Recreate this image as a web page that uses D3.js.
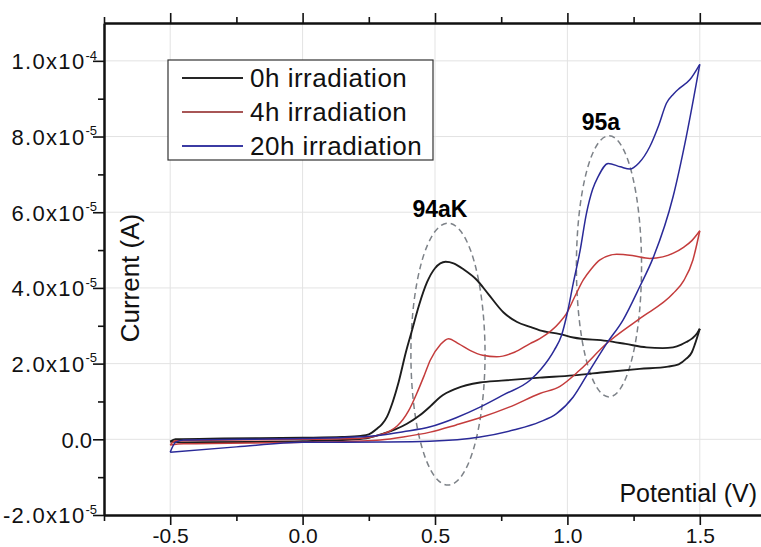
<!DOCTYPE html>
<html>
<head>
<meta charset="utf-8">
<script src="https://cdn.jsdelivr.net/npm/d3@7"></script>
<style>
  body { margin: 0; background: #fff; }
  svg { display: block; font-family: "Liberation Sans", Arial, sans-serif; }
</style>
</head>
<body>
<svg id="chart" width="761" height="547"></svg>
<script>
// ---- Cyclic voltammetry scans: [potential (V), current (A)] ----
const seriesNames = ["0h irradiation", "4h irradiation", "20h irradiation"];

// anodic (forward) sweeps, -0.5 V -> 1.5 V
const forward0h = [
  [-0.5, -0.06e-5], [-0.48, 0.0], [-0.3, 0.02e-5], [0.0, 0.04e-5], [0.15, 0.06e-5],
  [0.22, 0.09e-5], [0.25, 0.13e-5], [0.281, 0.28e-5], [0.30, 0.4e-5], [0.319, 0.6e-5],
  [0.34, 0.98e-5], [0.363, 1.52e-5], [0.39, 2.3e-5], [0.412, 2.85e-5], [0.44, 3.55e-5],
  [0.47, 4.15e-5], [0.50, 4.52e-5], [0.54, 4.69e-5], [0.57, 4.65e-5], [0.61, 4.48e-5],
  [0.658, 4.21e-5], [0.70, 3.85e-5], [0.759, 3.35e-5], [0.81, 3.1e-5], [0.859, 2.97e-5],
  [0.896, 2.88e-5], [0.972, 2.78e-5], [1.022, 2.69e-5], [1.148, 2.60e-5], [1.22, 2.52e-5],
  [1.299, 2.43e-5], [1.36, 2.41e-5], [1.399, 2.43e-5], [1.43, 2.5e-5], [1.449, 2.57e-5],
  [1.47, 2.66e-5], [1.49, 2.8e-5], [1.5, 2.92e-5]
];
const forward4h = [
  [-0.5, -0.15e-5], [-0.48, -0.04e-5], [0.0, 0.0], [0.2, 0.02e-5], [0.25, 0.05e-5],
  [0.293, 0.12e-5], [0.33, 0.22e-5], [0.357, 0.35e-5], [0.40, 0.75e-5], [0.431, 1.21e-5],
  [0.46, 1.7e-5], [0.482, 2.09e-5], [0.52, 2.5e-5], [0.551, 2.66e-5], [0.59, 2.52e-5],
  [0.632, 2.35e-5], [0.68, 2.22e-5], [0.733, 2.18e-5], [0.80, 2.3e-5], [0.859, 2.53e-5],
  [0.896, 2.66e-5], [0.972, 3.10e-5], [0.997, 3.33e-5], [1.03, 3.8e-5], [1.06, 4.21e-5],
  [1.09, 4.5e-5], [1.123, 4.74e-5], [1.186, 4.89e-5], [1.25, 4.85e-5], [1.311, 4.78e-5],
  [1.36, 4.82e-5], [1.40, 4.92e-5], [1.44, 5.08e-5], [1.47, 5.25e-5], [1.5, 5.51e-5]
];
const forward20h = [
  [-0.5, -0.34e-5], [-0.48, -0.08e-5], [-0.45, -0.02e-5], [0.0, 0.02e-5], [0.2, 0.06e-5],
  [0.293, 0.11e-5], [0.38, 0.2e-5], [0.482, 0.33e-5], [0.58, 0.57e-5], [0.67, 0.85e-5],
  [0.76, 1.18e-5], [0.859, 1.56e-5], [0.90, 1.85e-5], [0.95, 2.35e-5], [0.978, 2.75e-5],
  [1.0, 3.35e-5], [1.022, 4.12e-5], [1.047, 4.95e-5], [1.072, 5.97e-5], [1.095, 6.6e-5],
  [1.116, 6.94e-5], [1.154, 7.29e-5], [1.20, 7.2e-5], [1.236, 7.14e-5], [1.27, 7.3e-5],
  [1.311, 7.73e-5], [1.345, 8.3e-5], [1.374, 8.88e-5], [1.40, 9.12e-5], [1.424, 9.28e-5],
  [1.462, 9.5e-5], [1.5, 9.91e-5]
];

// cathodic (return) sweeps, listed in ascending potential
const reverse0h = [
  [-0.5, -0.06e-5], [-0.45, -0.08e-5], [-0.2, -0.07e-5], [0.0, -0.05e-5], [0.2, 0.0],
  [0.25, 0.04e-5], [0.305, 0.15e-5], [0.35, 0.26e-5], [0.394, 0.41e-5], [0.44, 0.62e-5],
  [0.482, 0.87e-5], [0.52, 1.12e-5], [0.58, 1.34e-5], [0.67, 1.50e-5], [0.75, 1.55e-5],
  [0.896, 1.63e-5], [1.022, 1.69e-5], [1.148, 1.78e-5], [1.273, 1.86e-5], [1.38, 1.92e-5],
  [1.42, 1.98e-5], [1.449, 2.13e-5], [1.47, 2.3e-5], [1.481, 2.5e-5], [1.5, 2.92e-5]
];
const reverse4h = [
  [-0.5, -0.15e-5], [-0.45, -0.12e-5], [0.0, -0.08e-5], [0.2, -0.05e-5], [0.293, -0.02e-5],
  [0.38, 0.06e-5], [0.482, 0.19e-5], [0.58, 0.38e-5], [0.67, 0.57e-5], [0.78, 0.85e-5],
  [0.896, 1.21e-5], [0.972, 1.40e-5], [1.047, 1.83e-5], [1.148, 2.53e-5], [1.273, 3.19e-5],
  [1.399, 3.85e-5], [1.44, 4.2e-5], [1.474, 4.74e-5], [1.5, 5.51e-5]
];
const reverse20h = [
  [-0.5, -0.34e-5], [-0.25, -0.2e-5], [0.0, -0.08e-5], [0.3, -0.07e-5], [0.48, -0.05e-5],
  [0.67, 0.06e-5], [0.8, 0.25e-5], [0.896, 0.46e-5], [0.959, 0.68e-5], [1.022, 1.12e-5],
  [1.085, 1.83e-5], [1.148, 2.53e-5], [1.21, 3.15e-5], [1.273, 4.03e-5], [1.324, 4.8e-5],
  [1.399, 6.41e-5], [1.449, 8.0e-5], [1.5, 9.91e-5]
];

const forwardScans = [forward0h, forward4h, forward20h];
const reverseScans = [reverse0h, reverse4h, reverse20h];

// axis ticks
const xTicks = [-0.5, 0.0, 0.5, 1.0, 1.5];
const xTickLabels = ["-0.5", "0.0", "0.5", "1.0", "1.5"];
const xMinorTicks = [-0.75, -0.25, 0.25, 0.75, 1.25, 1.75];
const yTicks = [-2e-5, 0, 2e-5, 4e-5, 6e-5, 8e-5, 1e-4];
const yTickMantissa = ["-2.0x10", "0.0", "2.0x10", "4.0x10", "6.0x10", "8.0x10", "1.0x10"];
const yTickExponent = ["-5", "", "-5", "-5", "-5", "-5", "-4"];
const yMinorTicks = [-1e-5, 1e-5, 3e-5, 5e-5, 7e-5, 9e-5];

// highlighted oxidation peaks (centre and half-extent in data units)
const peakNames = ["94aK", "95a"];
const peakCenterV = [0.549, 1.157];
const peakCenterI = [2.25e-5, 4.57e-5];
const peakHalfWidthV = [0.14, 0.123];
const peakHalfHeightI = [3.46e-5, 3.45e-5];

// ---- drawing ----
const lineColors = ["#1d1d1d", "#c43c3c", "#2a2a98"];
const legendColors = ["#262626", "#a85656", "#3b3ba3"];
const lineWidths = [1.9, 1.5, 1.5];
const fontFamily = "'Liberation Sans', Arial, sans-serif";

const svg = d3.select("#chart");
const x = d3.scaleLinear().domain([-0.75, 1.75]).range([104, 766]);
const y = d3.scaleLinear().domain([-2e-5, 1.1e-4]).range([515, 23]);

// grid
const grid = svg.append("g").attr("stroke", "#e3e3e3").attr("stroke-width", 1);
grid.selectAll("line.v").data(xTicks).join("line")
  .attr("x1", d => x(d)).attr("x2", d => x(d))
  .attr("y1", y.range()[1]).attr("y2", y.range()[0]);
grid.selectAll("line.h").data(yTicks.filter(d => d > y.domain()[0])).join("line")
  .attr("x1", x.range()[0]).attr("x2", x.range()[1])
  .attr("y1", d => y(d)).attr("y2", d => y(d));

// peak regions
const peaks = svg.append("g");
peakNames.forEach((name, i) => {
  const cx = x(peakCenterV[i]), cy = y(peakCenterI[i]);
  const rx = x(peakCenterV[i] + peakHalfWidthV[i]) - cx;
  const ry = cy - y(peakCenterI[i] + peakHalfHeightI[i]);
  peaks.append("ellipse")
    .attr("cx", cx).attr("cy", cy).attr("rx", rx).attr("ry", ry)
    .attr("fill", "none").attr("stroke", "#7d8288")
    .attr("stroke-width", 1.5).attr("stroke-dasharray", "6,4");
  peaks.append("text")
    .attr("x", cx - 8).attr("y", cy - ry - 6)
    .attr("text-anchor", "middle")
    .attr("font-size", 23).attr("font-weight", "bold").attr("fill", "#000")
    .text(name);
});

// scans
const line = d3.line().x(d => x(d[0])).y(d => y(d[1])).curve(d3.curveMonotoneX);
const curves = svg.append("g").attr("fill", "none");
seriesNames.forEach((name, i) => {
  [forwardScans[i], reverseScans[i]].forEach(scan => {
    curves.append("path").datum(scan)
      .attr("d", line)
      .attr("stroke", lineColors[i])
      .attr("stroke-width", lineWidths[i])
      .attr("stroke-linejoin", "round");
  });
});

// axes
function styleAxis(g) {
  g.select(".domain").attr("stroke", "#111").attr("stroke-width", 2);
  g.selectAll(".tick line").attr("stroke", "#111").attr("stroke-width", 1.6);
}

svg.append("g").attr("transform", `translate(0,${y.range()[0]})`)
  .call(d3.axisBottom(x).tickValues(xMinorTicks).tickSize(6).tickFormat("").tickSizeOuter(0))
  .call(styleAxis);
const xAxisG = svg.append("g").attr("transform", `translate(0,${y.range()[0]})`)
  .call(d3.axisBottom(x).tickValues(xTicks).tickSize(10).tickSizeOuter(0).tickPadding(3)
    .tickFormat((d, i) => xTickLabels[i]))
  .call(styleAxis);
xAxisG.selectAll("text").attr("font-size", 21).attr("fill", "#111")
  .attr("font-family", fontFamily);

svg.append("g").attr("transform", `translate(0,${y.range()[1]})`)
  .call(d3.axisTop(x).tickValues(xMinorTicks).tickSize(6).tickFormat("").tickSizeOuter(0))
  .call(styleAxis);
svg.append("g").attr("transform", `translate(0,${y.range()[1]})`)
  .call(d3.axisTop(x).tickValues(xTicks).tickSize(10).tickFormat("").tickSizeOuter(0))
  .call(styleAxis);

svg.append("g").attr("transform", `translate(${x.range()[0]},0)`)
  .call(d3.axisLeft(y).tickValues(yMinorTicks).tickSize(6).tickFormat("").tickSizeOuter(0))
  .call(styleAxis);
const yAxisG = svg.append("g").attr("transform", `translate(${x.range()[0]},0)`)
  .call(d3.axisLeft(y).tickValues(yTicks).tickSize(11).tickSizeOuter(0).tickPadding(2)
    .tickFormat(() => ""))
  .call(styleAxis);
yAxisG.selectAll(".tick text").each(function (d, i) {
  const t = d3.select(this)
    .attr("font-size", 22).attr("fill", "#111")
    .attr("font-family", fontFamily)
    .attr("dy", "0.36em").attr("x", yTickExponent[i] ? -7 : -12);
  t.append("tspan").attr("letter-spacing", yTickExponent[i] ? 1.3 : 0).text(yTickMantissa[i]);
  if (yTickExponent[i]) {
    t.append("tspan").attr("font-size", 13).attr("dy", "-0.75em").text(yTickExponent[i]);
  }
});

// axis titles
svg.append("text")
  .attr("transform", `translate(130,${(y(0) + y(1e-4)) / 2 + 28}) rotate(-90)`)
  .attr("text-anchor", "middle").attr("dy", "0.35em")
  .attr("font-size", 26).attr("fill", "#111")
  .text("Current (A)");
svg.append("text")
  .attr("x", 757).attr("y", 502).attr("text-anchor", "end")
  .attr("font-size", 25).attr("fill", "#111")
  .text("Potential (V)");

// legend
const legend = svg.append("g");
legend.append("rect").attr("x", 168).attr("y", 60).attr("width", 265).attr("height", 100)
  .attr("fill", "#fff").attr("stroke", "#333").attr("stroke-width", 1.2);
seriesNames.forEach((name, i) => {
  const ly = 78 + i * 34;
  legend.append("line").attr("x1", 182).attr("x2", 243).attr("y1", ly).attr("y2", ly)
    .attr("stroke", legendColors[i]).attr("stroke-width", 2);
  legend.append("text").attr("x", 250).attr("y", ly).attr("dy", "0.36em")
    .attr("font-size", 26).attr("letter-spacing", 0.5).attr("fill", "#111").text(name);
});
</script>
</body>
</html>
